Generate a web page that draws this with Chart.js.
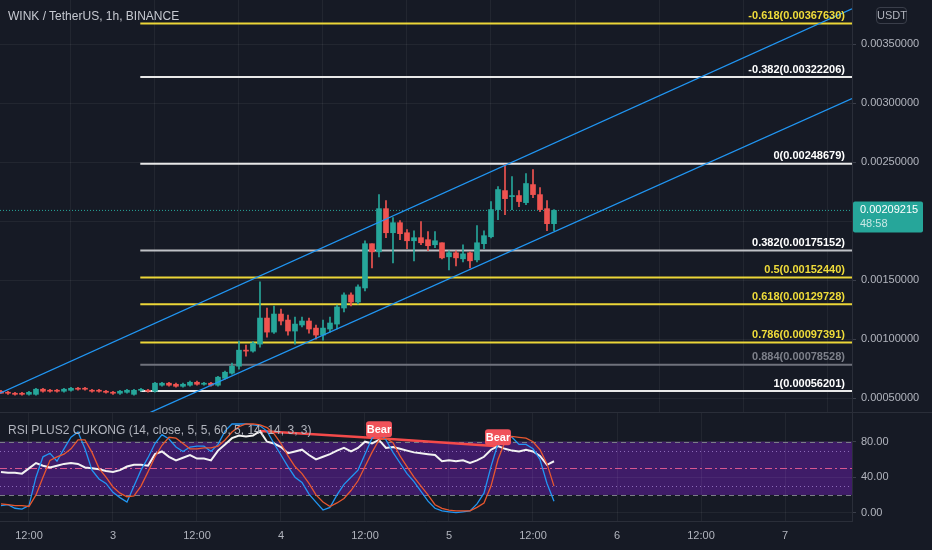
<!DOCTYPE html>
<html>
<head>
<meta charset="utf-8">
<title>WINK / TetherUS</title>
<script src="https://cdn.jsdelivr.net/npm/chart.js@4.4.1/dist/chart.umd.min.js"></script>
<style>
  html, body { margin: 0; padding: 0; background: #161a25; }
  #wrap { position: relative; width: 932px; height: 550px; overflow: hidden; background: #161a25;
          font-family: "Liberation Sans", Arial, sans-serif; }
  #priceCanvas { position: absolute; left: 0; top: 0; }
  #rsiCanvas { position: absolute; left: 0; top: 412px; }
  .title { position: absolute; left: 8px; top: 9px; color: #c5c8d0; font-size: 12px; line-height: 14px; white-space: nowrap; }
  .rsi-title { position: absolute; left: 8px; top: 423px; color: #b2b5be; font-size: 12px; line-height: 14px; white-space: nowrap; }
  .usdt { position: absolute; left: 876px; top: 7px; width: 31px; height: 17px; border: 1px solid #3a3e4a; border-radius: 4px;
          box-sizing: border-box; color: #b2b5be; font-size: 11px; line-height: 15px; text-align: center; }
</style>
</head>
<body>
<div id="wrap">
  <canvas id="priceCanvas" width="932" height="412"></canvas>
  <canvas id="rsiCanvas" width="932" height="138"></canvas>
  <div class="title">WINK / TetherUS, 1h, BINANCE</div>
  <div class="rsi-title">RSI PLUS2 CUKONG (14, close, 5, 5, 60, 5, 14, 14, 3, 3)</div>
  <div class="usdt">USDT</div>
</div>
<script>
// hours counted from day 2, 00:00
const hours = [8, 9, 10, 11, 12, 13, 14, 15, 16, 17, 18, 19, 20, 21, 22, 23, 24, 25, 26, 27,
  28, 29, 30, 31, 32, 33, 34, 35, 36, 37, 38, 39, 40, 41, 42, 43, 44, 45, 46, 47,
  48, 49, 50, 51, 52, 53, 54, 55, 56, 57, 58, 59, 60, 61, 62, 63, 64, 65, 66, 67,
  68, 69, 70, 71, 72, 73, 74, 75, 76, 77, 78, 79, 80, 81, 82, 83, 84, 85, 86, 87]

const opens = [0.000560, 0.000551, 0.000543, 0.000543, 0.000534, 0.000534, 0.000577, 0.000568, 0.000568, 0.000560,
  0.000568, 0.000585, 0.000585, 0.000568, 0.000568, 0.000560, 0.000551, 0.000543, 0.000551, 0.000534,
  0.000568, 0.000568, 0.000560, 0.000611, 0.000628, 0.000619, 0.000602, 0.000611, 0.000636, 0.000619,
  0.000628, 0.000611, 0.000670, 0.000713, 0.000772, 0.000908, 0.000900, 0.000959, 0.001180, 0.001061,
  0.001214, 0.001163, 0.001070, 0.001121, 0.001155, 0.001095, 0.001036, 0.001087, 0.001129, 0.001265,
  0.001376, 0.001316, 0.001435, 0.001810, 0.001741, 0.002107, 0.001903, 0.001988, 0.001903, 0.001835,
  0.001861, 0.001844, 0.001801, 0.001818, 0.001699, 0.001733, 0.001682, 0.001733, 0.001673, 0.001810,
  0.001869, 0.002099, 0.002260, 0.002209, 0.002218, 0.002158, 0.002311, 0.002226, 0.002107, 0.001980]
const highs = [0.000568, 0.000560, 0.000551, 0.000551, 0.000560, 0.000585, 0.000585, 0.000577, 0.000577, 0.000585,
  0.000594, 0.000594, 0.000594, 0.000577, 0.000577, 0.000568, 0.000560, 0.000568, 0.000577, 0.000577,
  0.000585, 0.000577, 0.000636, 0.000636, 0.000636, 0.000628, 0.000628, 0.000645, 0.000645, 0.000636,
  0.000636, 0.000687, 0.000730, 0.000798, 0.000985, 0.000951, 0.000980, 0.001486, 0.001265, 0.001282,
  0.001257, 0.001206, 0.001189, 0.001189, 0.001180, 0.001121, 0.001163, 0.001189, 0.001290, 0.001393,
  0.001393, 0.001461, 0.001835, 0.001810, 0.002226, 0.002175, 0.002031, 0.002005, 0.001929, 0.001920,
  0.001997, 0.001912, 0.001912, 0.001818, 0.001750, 0.001750, 0.001801, 0.001741, 0.001963, 0.001920,
  0.002167, 0.002294, 0.002481, 0.002379, 0.002260, 0.002405, 0.002439, 0.002286, 0.002175, 0.002099]
const lows = [0.000543, 0.000534, 0.000526, 0.000526, 0.000526, 0.000526, 0.000551, 0.000551, 0.000551, 0.000551,
  0.000560, 0.000568, 0.000568, 0.000551, 0.000551, 0.000543, 0.000534, 0.000534, 0.000543, 0.000526,
  0.000560, 0.000551, 0.000551, 0.000602, 0.000602, 0.000594, 0.000594, 0.000602, 0.000611, 0.000611,
  0.000602, 0.000602, 0.000662, 0.000704, 0.000747, 0.000857, 0.000890, 0.000934, 0.001019, 0.001050,
  0.001121, 0.001036, 0.000959, 0.001104, 0.001053, 0.001002, 0.000993, 0.001061, 0.001087, 0.001231,
  0.001282, 0.001300, 0.001410, 0.001605, 0.001699, 0.001861, 0.001648, 0.001844, 0.001767, 0.001665,
  0.001801, 0.001750, 0.001776, 0.001682, 0.001588, 0.001622, 0.001656, 0.001605, 0.001656, 0.001767,
  0.001860, 0.002014, 0.002056, 0.002099, 0.002124, 0.002141, 0.002201, 0.002082, 0.001920, 0.001920]
const closes = [0.000543, 0.000543, 0.000534, 0.000534, 0.000551, 0.000577, 0.000560, 0.000560, 0.000560, 0.000577,
  0.000585, 0.000577, 0.000577, 0.000560, 0.000560, 0.000551, 0.000543, 0.000560, 0.000568, 0.000568,
  0.000572, 0.000560, 0.000628, 0.000628, 0.000611, 0.000602, 0.000619, 0.000636, 0.000619, 0.000628,
  0.000611, 0.000679, 0.000721, 0.000772, 0.000908, 0.000900, 0.000968, 0.001180, 0.001061, 0.001214,
  0.001155, 0.001070, 0.001129, 0.001155, 0.001087, 0.001036, 0.001095, 0.001138, 0.001274, 0.001376,
  0.001316, 0.001444, 0.001810, 0.001741, 0.002107, 0.001903, 0.001988, 0.001895, 0.001835, 0.001861,
  0.001818, 0.001793, 0.001835, 0.001690, 0.001733, 0.001690, 0.001724, 0.001665, 0.001818, 0.001878,
  0.002099, 0.002269, 0.002192, 0.002218, 0.002167, 0.002320, 0.002226, 0.002099, 0.001980, 0.00209215]

// RSI pane series
const rsiValues = [46, 45, 45, 44, 50, 56, 53, 51, 53, 55, 56, 55, 51, 50, 49, 47, 46, 48, 52, 54,
  54, 53, 66, 69, 63, 59, 62, 65, 61, 61, 59, 70, 77, 84, 87, 86, 87, 92, 80, 78,
  74, 67, 69, 71, 65, 60, 63, 66, 70, 73, 69, 73, 80, 78, 82, 73, 74, 72, 70, 68,
  67, 66, 65, 58, 59, 58, 59, 56, 59, 63, 71, 75, 72, 70, 69, 71, 69, 64, 54, 58]
const stochK = [8, 9, 5, 4, 8, 40, 63, 67, 58, 72, 85, 91, 72, 48, 38, 33, 23, 17, 12, 30,
  48, 62, 78, 88, 83, 74, 69, 74, 75, 75, 69, 77, 92, 100, 100, 100, 99, 98, 92, 78,
  65, 52, 40, 34, 21, 12, 3, 6, 20, 32, 40, 48, 66, 84, 91, 82, 68, 56, 44, 35,
  24, 13, 5, 2, 1, 0, 1, 2, 10, 22, 52, 78, 92, 85, 77, 77, 72, 60, 33, 13]
const stochD = [10, 9, 8, 8, 7, 20, 40, 59, 63, 66, 72, 82, 82, 68, 50, 40, 29, 22, 18, 19,
  30, 46, 63, 76, 85, 84, 78, 72, 72, 73, 73, 75, 82, 91, 97, 100, 100, 99, 96, 89,
  78, 64, 52, 44, 33, 20, 12, 7, 11, 16, 25, 36, 52, 68, 82, 84, 79, 64, 52, 40,
  30, 20, 9, 5, 3, 2, 2, 2, 6, 11, 30, 60, 80, 86, 85, 84, 80, 71, 55, 30]

// bearish divergence on RSI
const divHours = [45, 62, 79]
const divValues = [92, 84, 75]
const bearHours = [62, 79]
const bearValues = [84, 75]

// fibonacci retracement
const fibStartHour = 27.9
const fibRatios = [-0.618, -0.382, 0, 0.382, 0.5, 0.618, 0.786, 0.884, 1]
const fibPrices = [0.00367630, 0.00322206, 0.00248679, 0.00175152, 0.00152440, 0.00129728, 0.00097391, 0.00078528, 0.00056201]

// parallel channel anchors (hour, price)
const upperHours = [7.86, 129.57]
const upperPrices = [0.000543, 0.00380]
const lowerHours = [28, 129.57]
const lowerPrices = [0.000345, 0.00304]

const countdown = '48:58'

// axes
const xMin = 7.86, xMax = 129.57
const xTickHours = [12, 24, 36, 48, 60, 72, 84, 96, 108, 120]
const xTickLabels = ['12:00', '3', '12:00', '4', '12:00', '5', '12:00', '6', '12:00', '7']
const priceTicks = [0.0005, 0.001, 0.0015, 0.002, 0.0025, 0.003, 0.0035]
const rsiTicks = [0, 40, 80]
const rsiBands = [80, 70, 50, 30, 20]

const UP = '#26a69a', DOWN = '#ef5350'
const GRID = 'rgba(255,255,255,0.055)'
const AXIS_TXT = '#b2b5be'
const YELLOW = '#ecd638', WHITE = '#e8e8e8'
const fibLineColors = [YELLOW, WHITE, WHITE, '#bfc1c6', YELLOW, YELLOW, YELLOW, '#6f727c', WHITE]
const fibTextColors = ['#f0dc3a', '#ffffff', '#ffffff', '#ffffff', '#f0dc3a', '#f0dc3a', '#f0dc3a', '#7d808a', '#ffffff']

Chart.defaults.font.family = '"Liberation Sans", Arial, sans-serif'
Chart.defaults.font.size = 11
Chart.defaults.color = AXIS_TXT

const candleColors = opens.map((o, i) => closes[i] >= o ? UP : DOWN)
const lastClose = closes[closes.length - 1]

// drop the half-label padding chart.js adds around the axes
function noPad(s) {
  s.paddingTop = 0
  s.paddingBottom = 0
  s.paddingLeft = 0
  s.paddingRight = 0
}

function rr(ctx, x, y, w, h, r) {
  ctx.beginPath()
  ctx.moveTo(x + r, y)
  ctx.arcTo(x + w, y, x + w, y + h, r)
  ctx.arcTo(x + w, y + h, x, y + h, r)
  ctx.arcTo(x, y + h, x, y, r)
  ctx.arcTo(x, y, x + w, y, r)
  ctx.closePath()
}

const fibDatasets = fibPrices.map((p, i) => ({
  type: 'line',
  data: [{x: fibStartHour, y: p}, {x: xMax + 5, y: p}],
  borderColor: fibLineColors[i],
  borderWidth: 2,
  pointRadius: 0,
  order: 5
}))

const priceOverlay = {
  id: 'priceOverlay',
  afterDraw(chart) {
    const {ctx, chartArea, scales} = chart
    ctx.save()
    ctx.font = 'bold 11px "Liberation Sans", Arial, sans-serif'
    ctx.textAlign = 'right'
    ctx.textBaseline = 'bottom'
    fibRatios.forEach((r, i) => {
      const y = scales.y.getPixelForValue(fibPrices[i])
      ctx.fillStyle = fibTextColors[i]
      ctx.fillText(String(r) + '(' + fibPrices[i].toFixed(8) + ')', chartArea.right - 7, y - 2)
    })
    // last price badge
    const py = scales.y.getPixelForValue(lastClose)
    ctx.fillStyle = UP
    rr(ctx, chartArea.right + 1, py - 9, 70, 31, 2)
    ctx.fill()
    ctx.textAlign = 'left'
    ctx.textBaseline = 'middle'
    ctx.font = '11px "Liberation Sans", Arial, sans-serif'
    ctx.fillStyle = '#ffffff'
    ctx.fillText(lastClose.toFixed(8), chartArea.right + 8, py)
    ctx.fillStyle = 'rgba(255,255,255,0.75)'
    ctx.fillText(countdown, chartArea.right + 8, py + 14)
    ctx.restore()
  }
}

new Chart(document.getElementById('priceCanvas'), {
  type: 'bar',
  data: {
    datasets: [
      {
        type: 'bar',
        data: hours.map((h, i) => ({x: h, y: [lows[i], highs[i]]})),
        backgroundColor: candleColors,
        barThickness: 1,
        grouped: false,
        order: 2
      },
      {
        type: 'bar',
        data: hours.map((h, i) => ({x: h, y: [opens[i], closes[i]]})),
        backgroundColor: candleColors,
        barThickness: 5,
        minBarLength: 1,
        grouped: false,
        order: 1
      },
      ...fibDatasets,
      {
        type: 'line',
        data: [{x: xMin, y: lastClose}, {x: xMax, y: lastClose}],
        borderColor: UP,
        borderWidth: 1,
        borderDash: [1, 2],
        pointRadius: 0,
        order: 4
      },
      {
        type: 'line',
        data: upperHours.map((h, i) => ({x: h, y: upperPrices[i]})),
        borderColor: '#2196f3',
        borderWidth: 1.3,
        pointRadius: 0,
        order: 0
      },
      {
        type: 'line',
        data: lowerHours.map((h, i) => ({x: h, y: lowerPrices[i]})),
        borderColor: '#2196f3',
        borderWidth: 1.3,
        pointRadius: 0,
        order: 0
      }
    ]
  },
  options: {
    responsive: false,
    animation: false,
    layout: {padding: 0},
    plugins: {legend: {display: false}, tooltip: {enabled: false}},
    scales: {
      x: {
        type: 'linear',
        min: xMin,
        max: xMax,
        offset: false,
        afterBuildTicks: s => { s.ticks = xTickHours.map(v => ({value: v})) },
        afterFit: s => { s.height = 0; noPad(s) },
        ticks: {display: false},
        grid: {color: GRID, drawTicks: false},
        border: {display: false}
      },
      y: {
        position: 'right',
        min: 0.000384,
        max: 0.003875,
        afterBuildTicks: s => { s.ticks = priceTicks.map(v => ({value: v})) },
        afterFit: s => { s.width = 80; noPad(s) },
        ticks: {padding: 5, color: AXIS_TXT, callback: v => v.toFixed(8)},
        grid: {color: GRID, tickLength: 4, tickColor: '#3a3e4a'},
        border: {color: '#2a2e39'}
      }
    }
  },
  plugins: [priceOverlay]
})

const rsiBand = {
  id: 'rsiBand',
  beforeDraw(chart) {
    const {ctx, chartArea, scales} = chart
    const t = scales.y.getPixelForValue(rsiBands[0])
    const b = scales.y.getPixelForValue(rsiBands[4])
    ctx.save()
    ctx.fillStyle = '#3f1c68'
    ctx.fillRect(chartArea.left, t, chartArea.right - chartArea.left, b - t)
    ctx.restore()
  },
  beforeDatasetsDraw(chart) {
    const {ctx, chartArea, scales} = chart
    const styles = [
      {c: '#7a7d87', d: [5, 4]},
      {c: '#8c6ab8', d: [1, 3]},
      {c: '#d8578f', d: [7, 3, 2, 3]},
      {c: '#8c6ab8', d: [1, 3]},
      {c: '#7a7d87', d: [5, 4]}
    ]
    ctx.save()
    ctx.lineWidth = 1
    rsiBands.forEach((v, i) => {
      const y = Math.round(scales.y.getPixelForValue(v)) + 0.5
      ctx.strokeStyle = styles[i].c
      ctx.setLineDash(styles[i].d)
      ctx.beginPath()
      ctx.moveTo(chartArea.left, y)
      ctx.lineTo(chartArea.right, y)
      ctx.stroke()
    })
    ctx.setLineDash([])
    ctx.strokeStyle = '#2a2e39'
    ctx.beginPath()
    ctx.moveTo(0, 0.5)
    ctx.lineTo(chart.width, 0.5)
    ctx.stroke()
    ctx.restore()
  },
  afterDatasetsDraw(chart) {
    const {ctx, scales} = chart
    ctx.save()
    ctx.font = 'bold 11px "Liberation Sans", Arial, sans-serif'
    ctx.textAlign = 'center'
    ctx.textBaseline = 'middle'
    bearHours.forEach((h, i) => {
      const x = scales.x.getPixelForValue(h)
      const y = scales.y.getPixelForValue(bearValues[i]) - 9
      ctx.fillStyle = '#f0525a'
      rr(ctx, x - 13, y - 8, 26, 16, 3)
      ctx.fill()
      ctx.fillStyle = '#ffffff'
      ctx.fillText('Bear', x, y + 0.5)
    })
    ctx.restore()
  }
}

new Chart(document.getElementById('rsiCanvas'), {
  type: 'line',
  data: {
    datasets: [
      {
        data: hours.map((h, i) => ({x: h, y: stochD[i]})),
        borderColor: '#e8572f',
        borderWidth: 1.3,
        pointRadius: 0,
        tension: 0
      },
      {
        data: hours.map((h, i) => ({x: h, y: stochK[i]})),
        borderColor: '#2196f3',
        borderWidth: 1.3,
        pointRadius: 0,
        tension: 0
      },
      {
        data: hours.map((h, i) => ({x: h, y: rsiValues[i]})),
        borderColor: '#f2f2f2',
        borderWidth: 2,
        pointRadius: 0,
        tension: 0
      },
      {
        data: divHours.map((h, i) => ({x: h, y: divValues[i]})),
        borderColor: '#f44a4a',
        borderWidth: 2.5,
        pointRadius: 0
      }
    ]
  },
  options: {
    responsive: false,
    animation: false,
    layout: {padding: 0},
    plugins: {legend: {display: false}, tooltip: {enabled: false}},
    scales: {
      x: {
        type: 'linear',
        min: xMin,
        max: xMax,
        afterBuildTicks: s => { s.ticks = xTickHours.map(v => ({value: v})) },
        afterFit: s => { s.height = 29; noPad(s) },
        ticks: {padding: 8, color: AXIS_TXT, maxRotation: 0, autoSkip: false,
                callback: (v, i) => xTickLabels[i]},
        grid: {color: GRID, drawTicks: false},
        border: {color: '#2a2e39'}
      },
      y: {
        position: 'right',
        min: -9.35,
        max: 113.5,
        afterBuildTicks: s => { s.ticks = rsiTicks.map(v => ({value: v})) },
        afterFit: s => { s.width = 80; noPad(s) },
        ticks: {padding: 5, color: AXIS_TXT, callback: v => v.toFixed(2)},
        grid: {color: GRID, tickLength: 4, tickColor: '#3a3e4a'},
        border: {color: '#2a2e39'}
      }
    }
  },
  plugins: [rsiBand]
})
</script>
</body>
</html>
